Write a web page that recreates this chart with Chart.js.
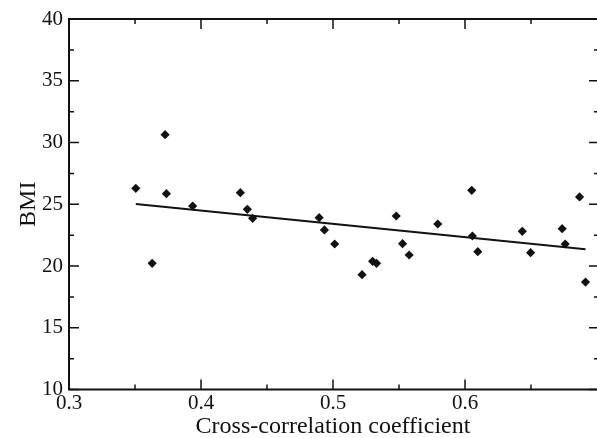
<!DOCTYPE html>
<html>
<head>
<meta charset="utf-8">
<script src="https://cdn.jsdelivr.net/npm/chart.js@4.4.0/dist/chart.umd.min.js"></script>
<style>
html, body { margin: 0; padding: 0; background: #fff; }
</style>
</head>
<body>
<canvas id="bmiChart" width="597" height="438"></canvas>
<script>
// values
const crossCorr = [0.3506, 0.3630, 0.3738, 0.3728, 0.3937, 0.4298, 0.4351, 0.4391, 0.4895,
    0.4935, 0.5013, 0.5220, 0.5300, 0.5330, 0.5479, 0.5527, 0.5577, 0.5794, 0.6051,
    0.6056, 0.6097, 0.6434, 0.6497, 0.6736, 0.6759, 0.6868, 0.6913];
const bmi = [26.29, 20.22, 25.86, 30.63, 24.86, 25.94, 24.59, 23.86, 23.91,
    22.92, 21.78, 19.30, 20.38, 20.22, 24.05, 21.81, 20.89, 23.40, 26.13,
    22.43, 21.16, 22.81, 21.08, 23.02, 21.78, 25.59, 18.70];
const fitX = [0.3506, 0.6913];
const fitY = [25.02, 21.35];

const xTicks = [0.3, 0.4, 0.5, 0.6];
const xMinorTicks = [0.35, 0.45, 0.55, 0.65];
const yTicks = [10, 15, 20, 25, 30, 35, 40];
const yMinorTicks = [12.5, 17.5, 22.5, 27.5, 32.5, 37.5];

const ink = '#111';
const serif = "'Liberation Serif', 'DejaVu Serif', serif";

// frame (right edge falls off the picture) with inward ticks on all sides
const frameTicks = {
    id: 'frameTicks',
    afterDatasetsDraw(chart) {
        const { ctx, chartArea: a, scales: { x, y } } = chart;
        ctx.save();
        ctx.strokeStyle = ink;
        ctx.lineWidth = 2;
        ctx.beginPath();
        ctx.moveTo(a.right + 2, a.top);
        ctx.lineTo(a.left, a.top);
        ctx.lineTo(a.left, a.bottom);
        ctx.lineTo(a.right + 2, a.bottom);
        ctx.stroke();
        ctx.lineWidth = 1.5;
        ctx.beginPath();
        function xTick(v, len) {
            const px = x.getPixelForValue(v);
            ctx.moveTo(px, a.bottom); ctx.lineTo(px, a.bottom - len);
            ctx.moveTo(px, a.top); ctx.lineTo(px, a.top + len);
        }
        function yTick(v, len) {
            const py = y.getPixelForValue(v);
            ctx.moveTo(a.left, py); ctx.lineTo(a.left + len, py);
            ctx.moveTo(a.right + 2, py); ctx.lineTo(a.right + 2 - len, py);
        }
        xTicks.forEach(v => xTick(v, 10));
        xMinorTicks.forEach(v => xTick(v, 5));
        yTicks.forEach(v => yTick(v, 10));
        yMinorTicks.forEach(v => yTick(v, 5));
        ctx.stroke();
        ctx.restore();
    }
};

const points = crossCorr.map((v, i) => ({ x: v, y: bmi[i] }));
const fitLine = fitX.map((v, i) => ({ x: v, y: fitY[i] }));

new Chart(document.getElementById('bmiChart'), {
    type: 'scatter',
    data: {
        datasets: [{
            data: points,
            pointStyle: 'rectRot',
            pointRadius: 4.6,
            backgroundColor: ink,
            borderColor: ink,
            borderWidth: 0,
            clip: false
        }, {
            type: 'line',
            data: fitLine,
            borderColor: ink,
            borderWidth: 2,
            pointRadius: 0,
            fill: false
        }]
    },
    options: {
        responsive: false,
        animation: false,
        devicePixelRatio: 1,
        layout: { autoPadding: false, padding: { left: 0, top: 19, right: 0, bottom: 0 } },
        plugins: { legend: { display: false }, tooltip: { enabled: false } },
        scales: {
            x: {
                type: 'linear',
                min: 0.3,
                max: 0.7,
                afterBuildTicks: s => { s.ticks = xTicks.map(v => ({ value: v })); },
                afterFit: s => { s.height = 48.5; },
                grid: { display: false, drawTicks: false, tickLength: 0 },
                border: { display: false },
                ticks: {
                    color: ink,
                    padding: 1,
                    maxRotation: 0,
                    font: { family: serif, size: 21 },
                    callback: v => v.toFixed(1)
                },
                title: {
                    display: true,
                    text: 'Cross-correlation coefficient',
                    color: ink,
                    font: { family: serif, size: 24, lineHeight: 1 },
                    padding: { top: 0, bottom: -1 }
                }
            },
            y: {
                type: 'linear',
                min: 10,
                max: 40,
                afterBuildTicks: s => { s.ticks = yTicks.map(v => ({ value: v })); },
                afterFit: s => { s.width = 69; },
                grid: { display: false, drawTicks: false, tickLength: 0 },
                border: { display: false },
                ticks: {
                    color: ink,
                    padding: 6,
                    font: { family: serif, size: 21 }
                },
                title: {
                    display: true,
                    text: 'BMI',
                    color: ink,
                    font: { family: serif, size: 24, lineHeight: 1 },
                    padding: { top: 17, bottom: 0 }
                }
            }
        }
    },
    plugins: [frameTicks]
});
</script>
</body>
</html>
